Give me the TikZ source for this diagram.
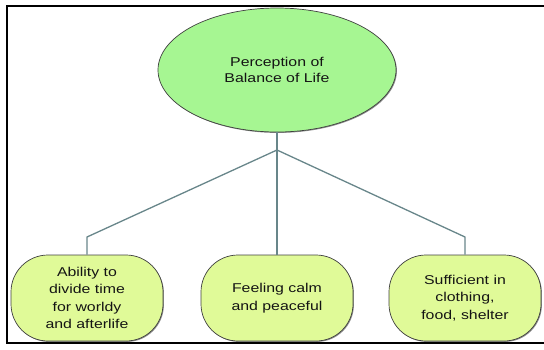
\documentclass[tikz,border=0pt]{standalone}
\usepackage{fontspec}
\setmainfont{Liberation Sans}[FakeStretch=1.24]
\usetikzlibrary{shapes.geometric,shadows}
\definecolor{topfill}{RGB}{166,246,146}
\definecolor{leaffill}{RGB}{224,250,152}
\definecolor{linkcol}{RGB}{104,134,138}
\definecolor{inkcol}{RGB}{20,20,20}
\begin{document}
\begin{tikzpicture}[x=1pt,y=-1pt,
  softshadow/.style={drop shadow={shadow xshift=0.9pt,shadow yshift=-0.9pt,fill=black,opacity=0.45}},
  topic/.style={ellipse,draw=black!75,line width=0.7pt,fill=topfill,softshadow,
    minimum width=238pt,minimum height=124pt,inner sep=0pt,align=center,
    text=inkcol,font=\fontsize{12.8}{16}\selectfont},
  leaf/.style={rectangle,rounded corners=37pt,draw=black!75,line width=0.7pt,fill=leaffill,softshadow,
    minimum width=152pt,minimum height=86pt,inner sep=0pt,align=center,
    text=inkcol,font=\fontsize{12.8}{17.5}\selectfont},
  link/.style={draw=linkcol,line width=1.3pt},
  frame/.style={draw=black,line width=2pt}]
\useasboundingbox (0,0) rectangle (544,349);

% central concept
\node[topic] (top) at (277,70) {Perception of\\Balance of Life};

% three aspects
\node[leaf] (left)  at (87,298)  {Ability to\\divide time\\for worldy\\and afterlife};
\node[leaf] (mid)   at (277,298) {Feeling calm\\and peaceful};
\node[leaf] (right) at (465,298) {Sufficient in\\clothing,\\food, shelter};

% branching connectors
\coordinate (hub) at (277,150);
\coordinate (lknee) at (87,237);
\coordinate (rknee) at (465,237);
\draw[link] (top.south) -- (hub);
\draw[link] (hub) -- (lknee) -- (left.north);
\draw[link] (hub) -- (mid.north);
\draw[link] (hub) -- (rknee) -- (right.north);

% outer frame (open on the right)
\draw[frame] (544,6) -- (7,6) -- (7,343) -- (544,343);
\end{tikzpicture}
\end{document}
